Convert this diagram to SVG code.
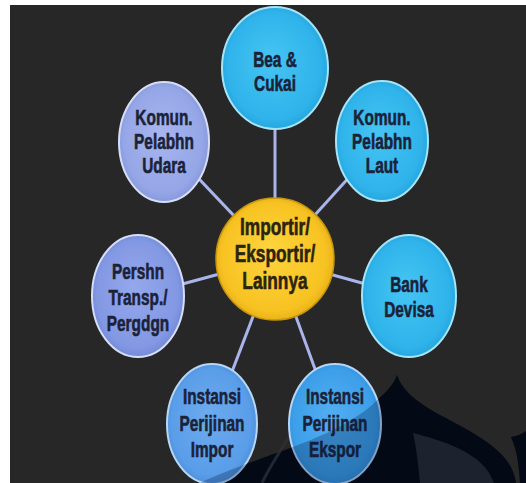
<svg xmlns="http://www.w3.org/2000/svg" xmlns:xlink="http://www.w3.org/1999/xlink" width="526" height="483" viewBox="0 0 526 483">
  <style>
    .lbl { font-family: "Liberation Sans", Arial, sans-serif; font-weight: bold; fill: #1b2238; stroke: #1b2238; stroke-width: 0.6; text-anchor: middle; font-size: 22px; }
    .lbl-c { font-size: 24px; fill: #2a2410; stroke: #2a2410; }
    .link { stroke: #a9b5ea; stroke-width: 3; fill: none; }
    .rim-cyan { stroke: #a6e4f7; stroke-width: 2; }
    .rim-lav { stroke: #d6ddf7; stroke-width: 2; }
    .rim-blue { stroke: #b5d6f6; stroke-width: 2; }
    .rim-gold { stroke: #c7960e; stroke-width: 1.5; }
  </style>
  <defs>
    <radialGradient id="gCyan" cx="50%" cy="50%" r="55%" fx="45%" fy="42%">
      <stop offset="0" stop-color="#46c5f3"/>
      <stop offset="0.8" stop-color="#2fb3ea"/>
      <stop offset="1" stop-color="#1f9ed8"/>
    </radialGradient>
    <radialGradient id="gLav" cx="50%" cy="50%" r="55%" fx="45%" fy="42%">
      <stop offset="0" stop-color="#a8b6ef"/>
      <stop offset="0.8" stop-color="#95a6e7"/>
      <stop offset="1" stop-color="#7e90d6"/>
    </radialGradient>
    <radialGradient id="gPeri" cx="50%" cy="50%" r="55%" fx="45%" fy="42%">
      <stop offset="0" stop-color="#95a8ec"/>
      <stop offset="0.8" stop-color="#8398e3"/>
      <stop offset="1" stop-color="#6c82d0"/>
    </radialGradient>
    <radialGradient id="gBlue" cx="50%" cy="50%" r="55%" fx="45%" fy="42%">
      <stop offset="0" stop-color="#6dabef"/>
      <stop offset="0.8" stop-color="#5a9de8"/>
      <stop offset="1" stop-color="#468ad6"/>
    </radialGradient>
    <radialGradient id="gBlue2" cx="50%" cy="50%" r="55%" fx="45%" fy="42%">
      <stop offset="0" stop-color="#52aef2"/>
      <stop offset="0.8" stop-color="#3d9fe9"/>
      <stop offset="1" stop-color="#2b8ad8"/>
    </radialGradient>
    <radialGradient id="gGold" cx="50%" cy="50%" r="55%" fx="45%" fy="42%">
      <stop offset="0" stop-color="#ffd43e"/>
      <stop offset="0.8" stop-color="#f7c322"/>
      <stop offset="1" stop-color="#e3a912"/>
    </radialGradient>
    <!-- dome-shaped watermark in the lower right corner -->
    <g id="logo">
      <path d="M200,483 C250,458 330,442 372,405 C385,393 393,386 397,375 C402,390 415,401 440,415 C488,440 512,455 516,483 Z"/>
      <path d="M511,437 C518,436 523,433 526,431 L526,483 L520,483 C519,465 517,450 511,437 Z"/>
    </g>
  </defs>

  <!-- page background -->
  <rect x="0" y="0" width="526" height="483" fill="#ffffff"/>
  <rect x="10" y="5" width="516" height="478" fill="#272727"/>

  <!-- watermark beneath the nodes -->
  <use xlink:href="#logo" fill="#050505"/>
  <path d="M420,483 C418,462 416,446 413,433 C440,440 484,452 494,483 Z" fill="#272727"/>
  <path d="M292,432 C281,450 269,468 262,483" stroke="#2e2e2e" stroke-width="3" fill="none"/>

  <!-- connectors from the hub to each partner -->
  <g id="connectors">
    <line class="link" x1="275" y1="259" x2="275" y2="68"/>
    <line class="link" x1="275" y1="259" x2="164" y2="142"/>
    <line class="link" x1="275" y1="259" x2="382" y2="141"/>
    <line class="link" x1="275" y1="259" x2="138" y2="296"/>
    <line class="link" x1="275" y1="259" x2="409" y2="296"/>
    <line class="link" x1="275" y1="259" x2="212" y2="424"/>
    <line class="link" x1="275" y1="259" x2="335" y2="424"/>
  </g>

  <g id="n-bea">
    <ellipse cx="275" cy="68" rx="53" ry="61" fill="url(#gCyan)" class="rim-cyan"/>
    <g transform="translate(275 0) scale(0.7 1)">
      <text class="lbl" x="0" y="67">Bea &amp;</text>
      <text class="lbl" x="0" y="91">Cukai</text>
    </g>
  </g>

  <g id="n-udara">
    <ellipse cx="164" cy="142" rx="45" ry="60" fill="url(#gLav)" class="rim-lav"/>
    <g transform="translate(164 0) scale(0.7 1)">
      <text class="lbl" x="0" y="125">Komun.</text>
      <text class="lbl" x="0" y="149">Pelabhn</text>
      <text class="lbl" x="0" y="173">Udara</text>
    </g>
  </g>

  <g id="n-laut">
    <ellipse cx="382" cy="141" rx="46" ry="60" fill="url(#gCyan)" class="rim-cyan"/>
    <g transform="translate(382 0) scale(0.7 1)">
      <text class="lbl" x="0" y="125">Komun.</text>
      <text class="lbl" x="0" y="149">Pelabhn</text>
      <text class="lbl" x="0" y="173">Laut</text>
    </g>
  </g>

  <g id="n-hub">
    <ellipse cx="275" cy="259" rx="59" ry="61" fill="url(#gGold)" class="rim-gold"/>
    <g transform="translate(275 0) scale(0.72 1)">
      <text class="lbl lbl-c" x="0" y="235">Importir/</text>
      <text class="lbl lbl-c" x="0" y="262">Eksportir/</text>
      <text class="lbl lbl-c" x="0" y="289">Lainnya</text>
    </g>
  </g>

  <g id="n-persh">
    <ellipse cx="138" cy="296" rx="46" ry="61" fill="url(#gPeri)" class="rim-lav"/>
    <g transform="translate(138 0) scale(0.7 1)">
      <text class="lbl" x="0" y="279">Pershn</text>
      <text class="lbl" x="0" y="305">Transp./</text>
      <text class="lbl" x="0" y="331">Pergdgn</text>
    </g>
  </g>

  <g id="n-bank">
    <ellipse cx="409" cy="296" rx="47" ry="61" fill="url(#gCyan)" class="rim-cyan"/>
    <g transform="translate(409 0) scale(0.7 1)">
      <text class="lbl" x="0" y="292">Bank</text>
      <text class="lbl" x="0" y="317">Devisa</text>
    </g>
  </g>

  <g id="n-impor">
    <ellipse cx="212" cy="424" rx="45" ry="60" fill="url(#gBlue)" class="rim-blue"/>
    <g transform="translate(212 0) scale(0.7 1)">
      <text class="lbl" x="0" y="404">Instansi</text>
      <text class="lbl" x="0" y="431">Perijinan</text>
      <text class="lbl" x="0" y="457">Impor</text>
    </g>
  </g>

  <g id="n-ekspor">
    <ellipse cx="335" cy="424" rx="46" ry="60" fill="url(#gBlue2)" class="rim-blue"/>
    <g transform="translate(335 0) scale(0.7 1)">
      <text class="lbl" x="0" y="404">Instansi</text>
      <text class="lbl" x="0" y="431">Perijinan</text>
      <text class="lbl" x="0" y="457">Ekspor</text>
    </g>
  </g>

  <!-- translucent watermark over the lower nodes -->
  <use xlink:href="#logo" fill="#001a40" opacity="0.28"/>
</svg>
